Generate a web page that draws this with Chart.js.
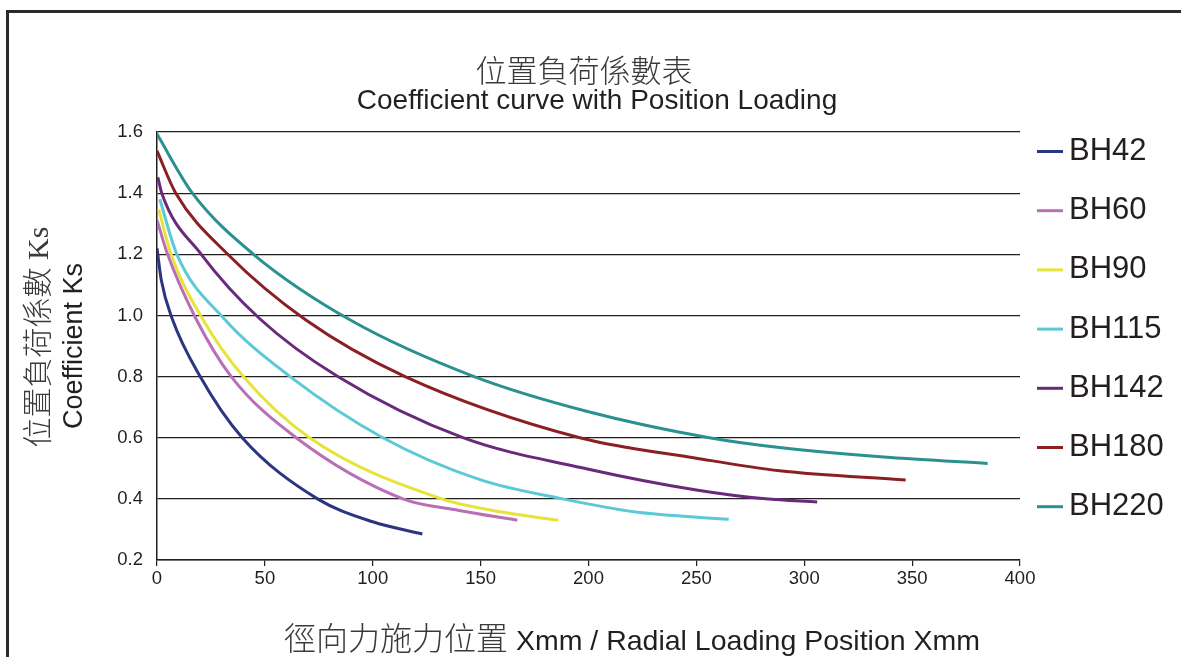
<!DOCTYPE html>
<html>
<head>
<meta charset="utf-8">
<title>Coefficient curve with Position Loading</title>
<script src="https://cdn.jsdelivr.net/npm/chart.js@4.4.1/dist/chart.umd.min.js"></script>
<style>
  html, body { margin: 0; padding: 0; background: #fff; }
  #wrap { position: relative; width: 1181px; height: 657px; overflow: hidden;
          font-family: "Liberation Sans", Arial, sans-serif; color: #231f20; }
  #frame { position: absolute; left: 6px; top: 10px; width: 1200px; height: 720px; box-sizing: border-box;
           border: 3px solid #2b2b2b; border-top-right-radius: 14px; }
  #chart { position: absolute; left: 0; top: 0; }
  .t { position: absolute; white-space: nowrap; transform: translate(-50%, -50%); line-height: 1; }
  .cjk { font-family: "Noto Sans CJK TC", "Noto Sans CJK SC", sans-serif; font-weight: 300; color: #3a3a3a; }
</style>
</head>
<body>
<div id="wrap">
  <div id="frame"></div>
  <canvas id="chart" width="1181" height="657"></canvas>
  <div class="t cjk" style="left:584px; top:68px; font-size:31px;">位置負荷係數表</div>
  <div class="t" style="left:597px; top:100px; font-size:28px;">Coefficient curve with Position Loading</div>
  <div class="t" style="left:36px; top:337px; transform: translate(-50%, -50%) rotate(-90deg);">
    <span class="cjk" style="font-size:30px;">位置負荷係數</span><span style="font-family:'Liberation Serif',serif; font-size:30px; color:#3a3a3a;"> Ks</span>
  </div>
  <div class="t" style="left:73px; top:346px; font-size:27px; transform: translate(-50%, -50%) rotate(-90deg);">Coefficient Ks</div>
  <div class="t" style="left:632px; top:637px;">
    <span class="cjk" style="font-size:32px;">徑向力施力位置</span><span style="font-size:28.5px;"> Xmm / Radial Loading Position Xmm</span>
  </div>
</div>
<script>
// curve names and colours
var seriesNames = ['BH42', 'BH60', 'BH90', 'BH115', 'BH142', 'BH180', 'BH220'];
var seriesColors = ['#2b3580', '#b96fb5', '#e8e33a', '#5bc9d6', '#6a2a7a', '#8a2024', '#2a9090'];

// values (x = mm, y = Ks)
var bh42X = [0, 2, 7, 20, 39.5, 74.4, 100, 123];
var bh42Y = [1.22, 1.115, 0.99, 0.8, 0.6, 0.4, 0.325, 0.285];
var bh60X = [0, 4.9, 18, 34.4, 64.5, 114, 140, 167];
var bh60Y = [1.312, 1.2, 0.99, 0.8, 0.6, 0.4, 0.362, 0.33];
var bh90X = [0.8, 6.5, 21, 40, 70.7, 132, 160, 186];
var bh90Y = [1.347, 1.2, 0.99, 0.8, 0.6, 0.4, 0.357, 0.33];
var bh115X = [1.3, 9.2, 31, 61.7, 104.7, 150, 188, 221, 265];
var bh115Y = [1.38, 1.2, 0.99, 0.8, 0.6, 0.462, 0.4, 0.358, 0.333];
var bh142X = [0.4, 2.2, 20.5, 47.5, 83.8, 141.8, 200, 250, 282, 306];
var bh142Y = [1.452, 1.4, 1.2, 0.99, 0.8, 0.6, 0.497, 0.429, 0.4, 0.39];
var bh180X = [0, 8.7, 32.8, 69, 115, 196, 250, 288.5, 347];
var bh180Y = [1.538, 1.4, 1.2, 0.985, 0.8, 0.6, 0.533, 0.492, 0.462];
var bh220X = [0, 16.4, 44.7, 89.6, 147, 200, 256, 288.5, 340, 385];
var bh220Y = [1.593, 1.4, 1.2, 0.985, 0.8, 0.685, 0.6, 0.568, 0.535, 0.516];

var xTicks = [0, 50, 100, 150, 200, 250, 300, 350, 400];
var yTicks = [0.2, 0.4, 0.6, 0.8, 1.0, 1.2, 1.4, 1.6];

var seriesX = [bh42X, bh60X, bh90X, bh115X, bh142X, bh180X, bh220X];
var seriesY = [bh42Y, bh60Y, bh90Y, bh115Y, bh142Y, bh180Y, bh220Y];

function toPoints(xs, ys) {
  return xs.map(function (x, i) { return { x: x, y: ys[i] }; });
}

var datasets = seriesNames.map(function (name, i) {
  return {
    label: name,
    data: toPoints(seriesX[i], seriesY[i]),
    borderColor: seriesColors[i],
    backgroundColor: seriesColors[i],
    borderWidth: 3,
    pointRadius: 0,
    cubicInterpolationMode: 'monotone',
    fill: false
  };
});

// legend on the right, one row per curve
var sideLegend = {
  id: 'sideLegend',
  afterDraw: function (chart) {
    var ctx = chart.ctx;
    ctx.save();
    chart.data.datasets.forEach(function (ds, i) {
      var y = 151.5 + i * 59.2;
      ctx.strokeStyle = ds.borderColor;
      ctx.lineWidth = 3;
      ctx.beginPath();
      ctx.moveTo(1037, y);
      ctx.lineTo(1063, y);
      ctx.stroke();
      ctx.fillStyle = '#231f20';
      ctx.font = '31px "Liberation Sans", Arial, sans-serif';
      ctx.textBaseline = 'middle';
      ctx.fillText(ds.label, 1069, y);
    });
    ctx.restore();
  }
};

var lineCanvas = document.getElementById('chart');
var ksChart = new Chart(lineCanvas, {
  type: 'line',
  data: { datasets: datasets },
  plugins: [sideLegend],
  options: {
    responsive: false,
    animation: false,
    layout: { padding: { left: 0, top: 132, right: 161, bottom: 0 } },
    plugins: {
      legend: { display: false },
      tooltip: { enabled: false }
    },
    scales: {
      x: {
        type: 'linear',
        min: 0,
        max: 400,
        afterBuildTicks: function (scale) {
          scale.ticks = xTicks.map(function (v) { return { value: v }; });
        },
        afterFit: function (scale) { scale.height = 97; },
        ticks: {
          padding: 2,
          color: '#231f20',
          font: { family: '"Liberation Sans", Arial, sans-serif', size: 18.5 }
        },
        grid: { drawOnChartArea: false, drawTicks: true, tickLength: 6, color: '#231f20', lineWidth: 1.2 },
        border: { color: '#231f20', width: 1.5 }
      },
      y: {
        min: 0.2,
        max: 1.6,
        afterBuildTicks: function (scale) {
          scale.ticks = yTicks.map(function (v) { return { value: v }; });
        },
        afterFit: function (scale) { scale.width = 157; },
        ticks: {
          padding: 14,
          color: '#231f20',
          font: { family: '"Liberation Sans", Arial, sans-serif', size: 18.5 },
          callback: function (v) { return Number(v).toFixed(1); }
        },
        grid: { drawTicks: false, color: '#231f20', lineWidth: 1.2 },
        border: { color: '#231f20', width: 1.5 }
      }
    }
  }
});
</script>
</body>
</html>
